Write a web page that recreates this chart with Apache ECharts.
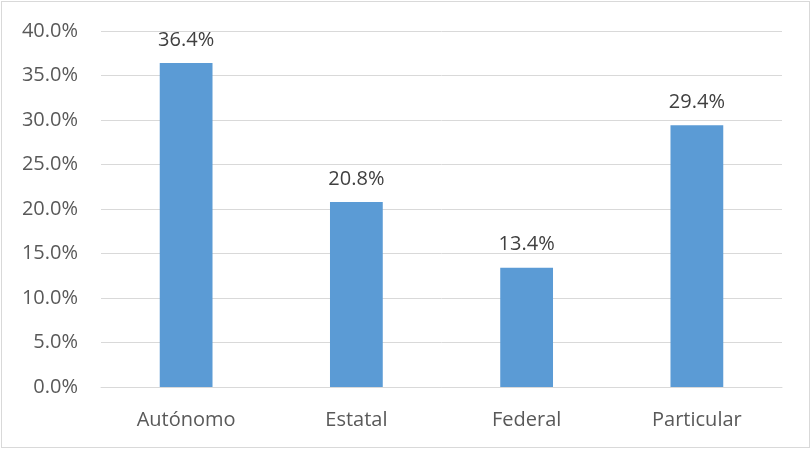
<!DOCTYPE html>
<html>
<head>
<meta charset="utf-8">
<style>
  html, body { margin: 0; padding: 0; background: #fff; }
  #frame { position: absolute; left: 1px; top: 1px; width: 807px; height: 445px; border: 1px solid #d9d9d9; box-sizing: content-box; }
  #chart { width: 811px; height: 449px; position: absolute; left: 0; top: 0; }
</style>
<script src="https://cdn.jsdelivr.net/npm/echarts@6/dist/echarts.min.js"></script>
</head>
<body>
<div id="frame"></div>
<div id="chart"></div>
<script>
// Share by type of institution (percent)
const categories = ['Autónomo', 'Estatal', 'Federal', 'Particular'];
const shares = [36.4, 20.8, 13.4, 29.4];
const yTicks = [0, 5, 10, 15, 20, 25, 30, 35, 40];

const textColor = '#595959';
const fontFamily = '"Open Sans", "Noto Sans", sans-serif';

const chart = echarts.init(document.getElementById('chart'), null, { renderer: 'canvas' });
chart.setOption({
  animation: false,
  grid: { left: 101, right: 29, top: 31, bottom: 62, containLabel: false },
  xAxis: {
    type: 'category',
    data: categories,
    axisLine: { show: true, lineStyle: { color: '#d9d9d9', width: 1 } },
    axisTick: { show: false },
    axisLabel: { color: textColor, fontSize: 20, fontFamily: fontFamily, margin: 23 }
  },
  yAxis: {
    type: 'value',
    min: yTicks[0],
    max: yTicks[yTicks.length - 1],
    interval: 5,
    axisLine: { show: false },
    axisTick: { show: false },
    splitLine: { lineStyle: { color: '#d9d9d9', width: 1 } },
    axisLabel: {
      color: textColor, fontSize: 20, fontFamily: fontFamily, margin: 23,
      formatter: v => v.toFixed(1) + '%'
    }
  },
  series: [{
    type: 'bar',
    data: shares,
    barWidth: '31%',
    itemStyle: { color: '#5b9bd5' },
    label: {
      show: true,
      position: 'top',
      distance: 13,
      color: '#404040',
      fontSize: 20,
      fontFamily: fontFamily,
      formatter: p => p.value.toFixed(1) + '%'
    }
  }]
});
</script>
</body>
</html>
